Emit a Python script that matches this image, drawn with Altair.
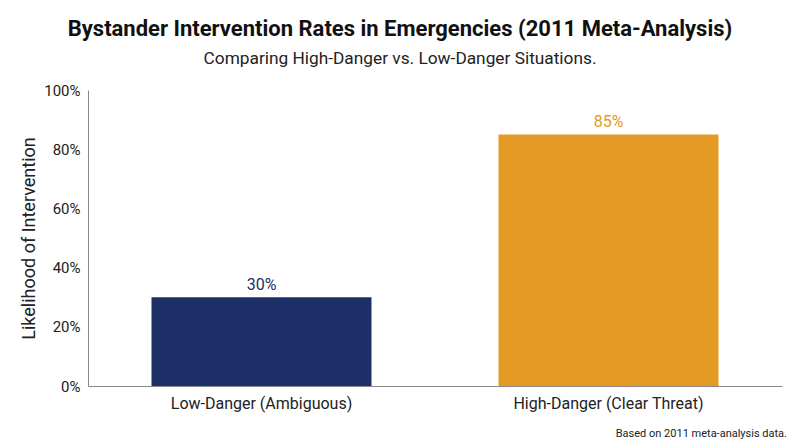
import altair as alt
import pandas as pd

categories = ["Low-Danger (Ambiguous)", "High-Danger (Clear Threat)"]
values = [0.30, 0.85]
labels = ["30%", "85%"]
colors = ["#1c2f66", "#e59a25"]

df = pd.DataFrame({"cat": categories, "val": values, "label": labels})

W, H = 694, 296
FONT = "Roboto"

x = alt.X("cat:N", sort=categories, title=None,
          scale=alt.Scale(paddingInner=0.366, paddingOuter=0.183),
          axis=alt.Axis(labelAngle=0, labelFontSize=16, labelColor="#222",
                        labelPadding=9, ticks=False, domainColor="#888",
                        labelFont=FONT, labelLimit=0))
y = alt.Y("val:Q", title="Likelihood of Intervention",
          scale=alt.Scale(domain=[0, 1]),
          axis=alt.Axis(format="%", values=[0, 0.2, 0.4, 0.6, 0.8, 1.0], grid=False,
                        ticks=False, domainColor="#888", labelFontSize=15,
                        labelColor="#222", labelPadding=8, titleFontSize=18,
                        titleFontWeight="normal", titleColor="#222", titlePadding=5,
                        labelFont=FONT, titleFont=FONT))
color = alt.Color("cat:N", scale=alt.Scale(domain=categories, range=colors), legend=None)

base = alt.Chart(df)
bars = base.mark_bar().encode(x=x, y=y, color=color)
text = base.mark_text(dy=-12, fontSize=16, font=FONT).encode(
    x=alt.X("cat:N", sort=categories), y="val:Q", text="label:N", color=color)
foot = alt.Chart(pd.DataFrame({"t": ["Based on 2011 meta-analysis data."]})).mark_text(
    align="right", baseline="alphabetic", fontSize=11, font=FONT, color="#222"
).encode(x=alt.value(W + 5), y=alt.value(H + 51), text="t:N")

chart = alt.layer(bars, text, foot).properties(
    width=W, height=H,
    title=alt.TitleParams(
        text="Bystander Intervention Rates in Emergencies (2011 Meta-Analysis)",
        subtitle="Comparing High-Danger vs. Low-Danger Situations.",
        font=FONT, fontSize=22, fontWeight="bold", color="#111",
        subtitleFont=FONT, subtitleFontSize=17.3, subtitleColor="#222",
        anchor="middle", dx=-35, offset=15, subtitlePadding=9),
    autosize=alt.AutoSizeParams(type="none"),
    padding={"left": 80, "top": 82, "right": 10, "bottom": 61},
).configure(background="white").configure_view(strokeWidth=0)

chart.save("out.html", embed_options={"renderer": "svg", "actions": False})
